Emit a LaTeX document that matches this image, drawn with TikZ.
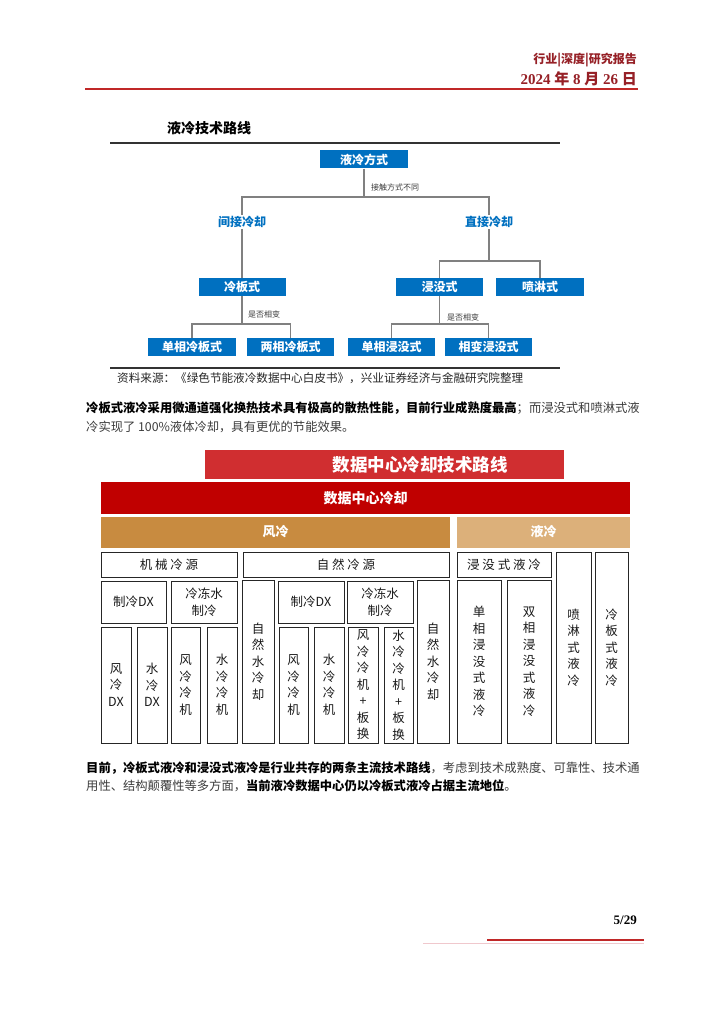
\documentclass[tikz,border=0pt]{standalone}
\usepackage{fontspec}
\setmainfont{Liberation Serif}
\newfontfamily\cjk{Noto Sans CJK SC}
\newfontfamily\lser{Liberation Serif}
\definecolor{hdred}{RGB}{150,32,38}
\definecolor{rulered}{RGB}{192,40,40}
\definecolor{pinkline}{RGB}{240,200,205}
\definecolor{boxblue}{RGB}{0,112,192}
\definecolor{connc}{RGB}{128,128,128}
\definecolor{bannerred}{RGB}{208,46,48}
\definecolor{deepred}{RGB}{192,0,0}
\definecolor{aircol}{RGB}{200,139,64}
\definecolor{liqcol}{RGB}{220,176,122}
\definecolor{txtgrey}{RGB}{60,60,60}
\newcommand\fsz[2]{\fontsize{#1}{#2}\selectfont}
\newcommand\cellbox[6]{\node[cell, minimum width={(#4-#2)*1pt}, minimum height={(#5-#3)*1pt}] (#1) at ({(#2+#4)/2},{(#3+#5)/2}) {#6};}
\begin{document}
\begin{tikzpicture}[x=1pt,y=-1pt,
  bluebox/.style={fill=boxblue, draw=none, minimum width=88pt, minimum height=18pt, inner sep=0pt, text=white, font=\cjk\bfseries\fsz{12}{12}},
  bluelabel/.style={inner sep=1pt, text=boxblue, font=\cjk\bfseries\fsz{12}{12}},
  smalllab/.style={anchor=west, inner sep=0pt, text=txtgrey, font=\cjk\fsz{8}{8}},
  conn/.style={draw=connc, line width=1.4pt},
  cell/.style={draw=black!85, line width=0.9pt, inner sep=0pt, align=center, text=black!90, font=\cjk\fsz{12.5}{16.5}},
  para/.style={anchor=west, inner sep=0pt, font=\cjk\fsz{12.3}{12.3}}
]
\useasboundingbox (0,0) rectangle (724,1024);
\fill[white] (0,0) rectangle (724,1024);

% header
\node[anchor=east, inner sep=0pt, text=hdred, font=\cjk\bfseries\fsz{12}{12}] (hd1) at (637,60) {行业|深度|研究报告};
\node[anchor=east, inner sep=0pt, text=hdred, font=\bfseries\fsz{15}{15}] (hd2) at (637,79) {2024 {\cjk 年} 8 {\cjk 月} 26 {\cjk 日}};
\draw[rulered, line width=1.6pt] (85,89) -- (638,89);

% top diagram
\node[anchor=west, inner sep=0pt, font=\cjk\bfseries\fsz{14}{14}] (t1) at (167,128) {液冷技术路线};
\draw[black!80, line width=1.3pt] (110,143) -- (560,143);
\draw[black!80, line width=1.3pt] (110,368) -- (560,368);

\node[bluebox] (root) at (364,159.5) {液冷方式};
\node[bluelabel] (ind) at (242,222) {间接冷却};
\node[bluelabel] (dir) at (489,222) {直接冷却};
\node[bluebox, minimum width=87pt] (lb) at (242,287) {冷板式};
\node[bluebox, minimum width=87pt] (imm) at (439.5,287) {浸没式};
\node[bluebox] (spr) at (540,287) {喷淋式};
\node[bluebox] (lb1) at (192,347) {单相冷板式};
\node[bluebox, minimum width=87pt] (lb2) at (290.5,347) {两相冷板式};
\node[bluebox, minimum width=87pt] (imm1) at (391.5,347) {单相浸没式};
\node[bluebox, minimum width=87pt] (imm2) at (488.5,347) {相变浸没式};

\coordinate (h1) at (0,197);
\coordinate (h2) at (0,261);
\coordinate (h3) at (0,324);
\draw[conn] (root.south) -- (root.south |- h1) -| (ind.north);
\draw[conn] (root.south |- h1) -| (dir.north);
\draw[conn] (ind.south) -- (lb.north);
\draw[conn] (dir.south) -- (dir.south |- h2) -| (imm.north);
\draw[conn] (dir.south |- h2) -| (spr.north);
\draw[conn] (lb.south) -- (lb.south |- h3) -| (lb1.north);
\draw[conn] (lb.south |- h3) -| (lb2.north);
\draw[conn] (imm.south) -- (imm.south |- h3) -| (imm1.north);
\draw[conn] (imm.south |- h3) -| (imm2.north);

\node[smalllab] (l1) at (371,187) {接触方式不同};
\node[smalllab] (l2) at (248,314) {是否相变};
\node[smalllab] (l3) at (447,317) {是否相变};

\node[anchor=west, inner sep=0pt, text=black!85, font=\cjk\fsz{11.6}{11.6}] (cap) at (117,378) {资料来源：《绿色节能液冷数据中心白皮书》，兴业证券经济与金融研究院整理};

% paragraph 1
\node[para] (p1a) at (86,408) {{\bfseries 冷板式液冷采用微通道强化换热技术具有极高的散热性能，目前行业成熟度最高}\textcolor{txtgrey}{；而浸没式和喷淋式液}};
\node[para, text=txtgrey] (p1b) at (86,427) {冷实现了 100\%液体冷却，具有更优的节能效果。};

% second diagram
\node[fill=bannerred, minimum width=359pt, minimum height=29pt, inner sep=0pt] (ban) at (384.5,464.5) {};
\node[text=white, inner sep=0pt, font=\cjk\bfseries\fsz{17.5}{17.5}] (bant) at (420,464.5) {数据中心冷却技术路线};
\node[fill=deepred, minimum width=529pt, minimum height=32pt, inner sep=0pt, text=white, font=\cjk\bfseries\fsz{14}{14}] (dc) at (365.5,498) {数据中心冷却};
\node[fill=aircol, minimum width=349pt, minimum height=31pt, inner sep=0pt, text=white, font=\cjk\bfseries\fsz{13}{13}] (air) at (275.5,532) {风冷};
\node[fill=liqcol, minimum width=173pt, minimum height=31pt, inner sep=0pt, text=white, font=\cjk\bfseries\fsz{13}{13}] (liq) at (543.5,532) {液冷};

\cellbox{mech}{101}{552}{237}{577}{机 械 冷 源}
\cellbox{nat}{243}{552}{449}{577}{自 然 冷 源}
\cellbox{immb}{457}{552}{551}{577}{浸 没 式 液 冷}
\cellbox{sprb}{556}{552}{591}{743}{喷\\淋\\式\\液\\冷}
\cellbox{cpb}{595}{552}{628}{743}{冷\\板\\式\\液\\冷}
\cellbox{mdx}{101}{581}{166}{623}{制冷DX}
\cellbox{mcw}{171}{581}{237}{623}{冷冻水\\制冷}
\cellbox{m1}{101}{627}{131}{743}{风\\冷\\DX}
\cellbox{m2}{137}{627}{167}{743}{水\\冷\\DX}
\cellbox{m3}{171}{627}{200}{743}{风\\冷\\冷\\机}
\cellbox{m4}{207}{627}{237}{743}{水\\冷\\冷\\机}
\cellbox{nw1}{242}{580}{274}{743}{自\\然\\水\\冷\\却}
\cellbox{ndx}{278}{581}{344}{623}{制冷DX}
\cellbox{ncw}{347}{581}{413}{623}{冷冻水\\制冷}
\cellbox{n1}{279}{627}{308}{743}{风\\冷\\冷\\机}
\cellbox{n2}{314}{627}{344}{743}{水\\冷\\冷\\机}
\cellbox{n3}{348}{627}{378}{743}{风\\冷\\冷\\机\\+\\板\\换}
\cellbox{n4}{384}{627}{413}{743}{水\\冷\\冷\\机\\+\\板\\换}
\cellbox{nw2}{417}{580}{449}{743}{自\\然\\水\\冷\\却}
\cellbox{i1}{457}{580}{501}{743}{单\\相\\浸\\没\\式\\液\\冷}
\cellbox{i2}{507}{580}{551}{743}{双\\相\\浸\\没\\式\\液\\冷}

% paragraph 2
\node[para] (p2a) at (86,768) {{\bfseries 目前，冷板式液冷和浸没式液冷是行业共存的两条主流技术路线}\textcolor{txtgrey}{，考虑到技术成熟度、可靠性、技术通}};
\node[para] (p2b) at (86,786) {\textcolor{txtgrey}{用性、结构颠覆性等多方面，}{\bfseries 当前液冷数据中心仍以冷板式液冷占据主流地位}\textcolor{txtgrey}{。}};

% footer
\node[anchor=east, inner sep=0pt, font=\bfseries\fsz{13}{13}] (pg) at (637,920) {5/29};
\draw[rulered, line width=1.6pt] (487,940) -- (644,940);
\draw[pinkline, line width=0.8pt] (423,943.5) -- (644,943.5);
\end{tikzpicture}
\end{document}
